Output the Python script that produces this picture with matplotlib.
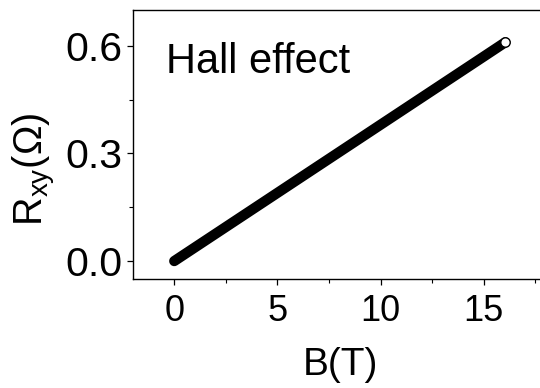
import matplotlib
matplotlib.use("Agg")
import matplotlib.pyplot as plt
from matplotlib.ticker import MultipleLocator

plt.rcParams['font.family'] = ['Liberation Sans', 'DejaVu Sans']
plt.rcParams['mathtext.fontset'] = 'custom'
plt.rcParams['mathtext.rm'] = 'Liberation Sans'
plt.rcParams['mathtext.it'] = 'Liberation Sans:italic'

# Data (Hall resistance vs field)
B_field = [0, 1, 2, 3, 4, 5, 6, 7, 8, 9, 10, 11, 12, 13, 14, 15, 16.05]
R_xy = [0.000, 0.038, 0.076, 0.114, 0.152, 0.190, 0.228, 0.266, 0.304,
        0.342, 0.380, 0.418, 0.456, 0.494, 0.532, 0.570, 0.610]
x_ticks = [0, 5, 10, 15]
y_ticks = [0.0, 0.3, 0.6]

W, H = 540, 388
fig = plt.figure(figsize=(W / 100, H / 100), dpi=100)
left, right, top, bottom = 133, 545.5, 10, 279
ax = fig.add_axes([left / W, 1 - bottom / H, (right - left) / W, (bottom - top) / H])

ax.plot(B_field, R_xy, color='black', lw=7.4, solid_capstyle='round', zorder=2)
ax.plot(B_field[-1:], R_xy[-1:], 'o', ms=6.8, mfc='white', mec='black', mew=1.0, zorder=3)

ax.set_xlim(-2, 18)
ax.set_ylim(-0.05, 0.70)
ax.set_xticks(x_ticks)
ax.set_yticks(y_ticks)
ax.set_yticklabels([f"{v:.1f}" for v in y_ticks])
ax.xaxis.set_minor_locator(MultipleLocator(2.5))
ax.yaxis.set_minor_locator(MultipleLocator(0.15))
ax.tick_params(which='major', direction='out', length=4.5, width=0.9)
ax.tick_params(which='minor', direction='out', length=3, width=0.8)
ax.tick_params(axis='x', which='major', labelsize=26, pad=6)
ax.tick_params(axis='y', which='major', labelsize=29.5, pad=3)
for s in ax.spines.values():
    s.set_linewidth(1.0)

fig.text(166 / W, 1 - 72.7 / H, 'Hall effect', fontsize=30, ha='left', va='baseline')

fig.text(34 / W, 1 - 169 / H, r'R$_{\mathrm{xy}}$(Ω)', fontsize=28.5, rotation=90,
         ha='center', va='center')
fig.text(340 / W, 1 - 365 / H, 'B(T)', fontsize=28, ha='center', va='center')

fig.savefig('out.png', dpi=100)
